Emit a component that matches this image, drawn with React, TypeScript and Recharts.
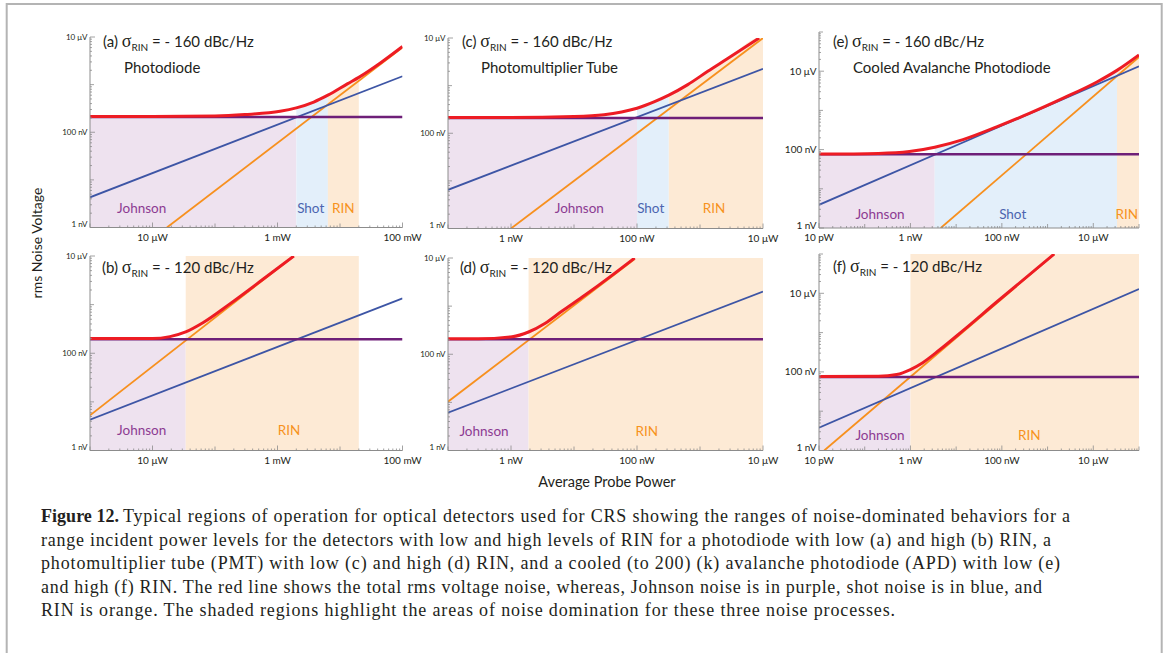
import React from "react";
import { ComposedChart, Line, Area, XAxis, YAxis } from "recharts";

type Pt = { x: number; y: number };

// x: average probe power (W), y: rms noise voltage (V)

// (a) photodiode, -160 dBc/Hz
const johnsonA: Pt[] = [{ x: 1e-6, y: 2.1e-7 }, { x: 1e-1, y: 2.1e-7 }];
const shotA: Pt[] = [{ x: 1e-6, y: 4.3e-9 }, { x: 1e-1, y: 1.5e-6 }];
const rinA: Pt[] = [{ x: 1.7e-5, y: 1e-9 }, { x: 1e-1, y: 6e-6 }];
const totalA: Pt[] = [
  { x: 1e-6, y: 2.15e-7 }, { x: 1e-5, y: 2.15e-7 }, { x: 1e-4, y: 2.2e-7 },
  { x: 3e-4, y: 2.35e-7 }, { x: 1.1e-3, y: 2.75e-7 }, { x: 2e-3, y: 3.25e-7 },
  { x: 3.8e-3, y: 4.3e-7 }, { x: 6.4e-3, y: 6e-7 }, { x: 1.33e-2, y: 1.05e-6 },
  { x: 2e-2, y: 1.42e-6 }, { x: 4.6e-2, y: 2.95e-6 }, { x: 1e-1, y: 6.3e-6 },
];
const edgesA = [2e-3, 6.4e-3, 2e-2];

// (b) photodiode, -120 dBc/Hz
const johnsonB: Pt[] = [{ x: 1e-6, y: 1.95e-7 }, { x: 1e-1, y: 1.95e-7 }];
const shotB: Pt[] = [{ x: 1e-6, y: 4.3e-9 }, { x: 1e-1, y: 1.35e-6 }];
const rinB: Pt[] = [{ x: 1e-6, y: 5.3e-9 }, { x: 1.8e-3, y: 9.8e-6 }];
const totalB: Pt[] = [
  { x: 1e-6, y: 2e-7 }, { x: 1e-5, y: 2e-7 }, { x: 1.9e-5, y: 2.2e-7 },
  { x: 3.4e-5, y: 2.75e-7 }, { x: 6.5e-5, y: 4.3e-7 }, { x: 1.75e-4, y: 1.05e-6 },
  { x: 6e-4, y: 3.4e-6 }, { x: 1.83e-3, y: 1e-5 },
];
const edgesB = [3.4e-5, 2e-2];

// (c) photomultiplier tube, -160 dBc/Hz
const johnsonC: Pt[] = [{ x: 1e-10, y: 2.1e-7 }, { x: 1e-5, y: 2.1e-7 }];
const shotC: Pt[] = [{ x: 1e-10, y: 6.5e-9 }, { x: 1e-5, y: 2.25e-6 }];
const rinC: Pt[] = [{ x: 1e-9, y: 1e-9 }, { x: 1e-5, y: 1e-5 }];
const totalC: Pt[] = [
  { x: 1e-10, y: 2.15e-7 }, { x: 1e-9, y: 2.15e-7 }, { x: 1e-8, y: 2.25e-7 },
  { x: 3e-8, y: 2.45e-7 }, { x: 5.7e-8, y: 2.8e-7 }, { x: 1e-7, y: 3.35e-7 },
  { x: 1.9e-7, y: 4.6e-7 }, { x: 3.2e-7, y: 6.3e-7 }, { x: 6.4e-7, y: 1.05e-6 },
  { x: 1.33e-6, y: 2.0e-6 }, { x: 2.75e-6, y: 3.7e-6 }, { x: 8.7e-6, y: 1e-5 },
];
const edgesC = [1e-7, 3.2e-7, 1e-5];

// (d) photomultiplier tube, -120 dBc/Hz
const johnsonD: Pt[] = [{ x: 1e-10, y: 2.05e-7 }, { x: 1e-5, y: 2.05e-7 }];
const shotD: Pt[] = [{ x: 1e-10, y: 6.1e-9 }, { x: 1e-5, y: 2.0e-6 }];
const rinD: Pt[] = [{ x: 1e-10, y: 1.03e-8 }, { x: 9e-8, y: 9.3e-6 }];
const totalD: Pt[] = [
  { x: 1e-10, y: 2.1e-7 }, { x: 3e-10, y: 2.1e-7 }, { x: 1.04e-9, y: 2.32e-7 },
  { x: 1.9e-9, y: 2.9e-7 }, { x: 3.5e-9, y: 4.4e-7 }, { x: 6.4e-9, y: 7.8e-7 },
  { x: 1.5e-8, y: 1.7e-6 }, { x: 3.95e-8, y: 4.3e-6 }, { x: 9.2e-8, y: 1e-5 },
];
const edgesD = [1.9e-9, 1e-5];

// (e) cooled APD, -160 dBc/Hz
const johnsonE: Pt[] = [{ x: 1e-11, y: 7.6e-8 }, { x: 1e-4, y: 7.6e-8 }];
const shotE: Pt[] = [{ x: 1e-11, y: 3.9e-9 }, { x: 1e-4, y: 1.34e-5 }];
const rinE: Pt[] = [{ x: 4.6e-9, y: 1e-9 }, { x: 1e-4, y: 2.3e-5 }];
const totalE: Pt[] = [
  { x: 1e-11, y: 7.7e-8 }, { x: 2e-10, y: 8e-8 }, { x: 9.5e-10, y: 8.9e-8 },
  { x: 3.4e-9, y: 1.15e-7 }, { x: 1.41e-8, y: 1.8e-7 }, { x: 7.7e-8, y: 3.8e-7 },
  { x: 4.1e-7, y: 8.5e-7 }, { x: 2.2e-6, y: 2.05e-6 }, { x: 1.2e-5, y: 5.3e-6 },
  { x: 3.3e-5, y: 1.05e-5 }, { x: 1e-4, y: 2.6e-5 },
];
const edgesE = [3.4e-9, 3.3e-5, 1e-4];

// (f) cooled APD, -120 dBc/Hz
const johnsonF: Pt[] = [{ x: 1e-11, y: 7.4e-8 }, { x: 1e-4, y: 7.4e-8 }];
const shotF: Pt[] = [{ x: 1e-11, y: 3.8e-9 }, { x: 1e-4, y: 1.29e-5 }];
const rinF: Pt[] = [{ x: 1.3e-11, y: 1e-9 }, { x: 1.4e-6, y: 1e-4 }];
const totalF: Pt[] = [
  { x: 1e-11, y: 7.6e-8 }, { x: 2e-10, y: 7.8e-8 }, { x: 5e-10, y: 8.6e-8 },
  { x: 1e-9, y: 1.15e-7 }, { x: 1.86e-9, y: 1.72e-7 }, { x: 4.3e-9, y: 3.6e-7 },
  { x: 1.41e-8, y: 1.12e-6 }, { x: 7.7e-8, y: 6e-6 }, { x: 1.4e-6, y: 1e-4 },
];
const edgesF = [1e-9, 1e-4];

// tick labels
const xTicksAB = [1e-5, 1e-3, 1e-1];
const xLabelsAB = ["10 \u03bcW", "1 mW", "100 mW"];
const xTicksCD = [1e-9, 1e-7, 1e-5];
const xLabelsCD = ["1 nW", "100 nW", "10 \u03bcW"];
const xTicksEF = [1e-11, 1e-9, 1e-7, 1e-5];
const xLabelsEF = ["10 pW", "1 nW", "100 nW", "10 \u03bcW"];
const yTicksV = [1e-9, 1e-7, 1e-5];
const yLabelsV = ["1 nV", "100 nV", "10 \u03bcV"];

const captionLines = [
  "Typical regions of operation for optical detectors used for CRS showing the ranges of noise-dominated behaviors for a",
  "range incident power levels for the detectors with low and high levels of RIN for a photodiode with low (a) and high (b) RIN, a",
  "photomultiplier tube (PMT) with low (c) and high (d) RIN, and a cooled (to 200) (k) avalanche photodiode (APD) with low (e)",
  "and high (f) RIN. The red line shows the total rms voltage noise, whereas, Johnson noise is in purple, shot noise is in blue, and",
  "RIN is orange. The shaded regions highlight the areas of noise domination for these three noise processes.",
];

const INK = "#231f20";
const SANS = "Lato, 'Noto Sans', sans-serif";
const SERIF = "'Liberation Serif', 'DejaVu Serif', serif";
const AXIS = "#8c8c8c";
const RED = "#ed1c24";
const PURPLE = "#6e1f78";
const BLUE = "#3d55a5";
const ORANGE = "#f7901e";
const FILL: Record<string, string> = { J: "#eee2ef", S: "#e3effa", R: "#fdead5" };
const TXT: Record<string, string> = { J: "#8c3b92", S: "#4b65b0", R: "#f7931d" };

function logTicks([lo, hi]: number[]) {
  const e0 = Math.round(Math.log10(lo));
  const e1 = Math.round(Math.log10(hi));
  const out: number[] = [];
  for (let e = e0; e < e1; e++) for (let m = 1; m < 10; m++) out.push(m * 10 ** e);
  out.push(10 ** e1);
  return out;
}

const same = (a: number, b: number) => Math.abs(Math.log10(a) - Math.log10(b)) < 1e-6;
const isDecade = (v: number) => Math.abs(Math.log10(v) - Math.round(Math.log10(v))) < 1e-6;
function labelFor(v: number, ticks: number[], labels: string[]) {
  const i = ticks.findIndex((t) => same(t, v));
  return i >= 0 ? labels[i] : null;
}

function XTick(props: any) {
  const { x, y, payload, major, labels } = props;
  const lbl = labelFor(payload.value, major, labels);
  const len = lbl ? 5 : isDecade(payload.value) ? 4 : 2;
  return (
    <g>
      <line x1={x} x2={x} y1={y} y2={y - len} stroke={AXIS} strokeWidth={0.8} />
      {lbl && (
        <text x={x} y={y + 13} textAnchor="middle" fontSize={10} fontFamily={SANS} fill={INK}>
          {lbl}
        </text>
      )}
    </g>
  );
}

function YTick(props: any) {
  const { x, y, payload, major, labels, fs, bottom } = props;
  const lbl = labelFor(payload.value, major, labels);
  const len = lbl ? 5 : isDecade(payload.value) ? 4 : 2;
  const shift = same(payload.value, bottom) ? -3 : 0;
  return (
    <g>
      <line x1={x} x2={x + len} y1={y} y2={y} stroke={AXIS} strokeWidth={0.8} />
      {lbl && (
        <text x={x - 2.5} y={y + shift + fs * 0.35} textAnchor="end" fontSize={fs} fontFamily={SANS} fill={INK}>
          {lbl}
        </text>
      )}
    </g>
  );
}

// shading under the total curve between two band edges, capped at the plot top
function underCurve(curve: Pt[], x0: number, x1: number, top: number): Pt[] {
  const pts = curve.filter((p) => p.x >= x0 * 0.9999 && p.x <= x1 * 1.0001);
  const last = pts[pts.length - 1];
  if (!same(last.x, x1)) pts.push({ x: x1, y: Math.min(top, last.y) });
  return pts;
}

type PanelCfg = {
  box: { l: number; t: number; r: number; b: number };
  xDomain: number[];
  yDomain: number[];
  xTicks: number[];
  xLabels: string[];
  yFont: number;
  johnson: Pt[];
  shot: Pt[];
  rin: Pt[];
  total: Pt[];
  edges: number[];
  kinds: string[];
  full: boolean[]; // band shaded up to the plot top instead of under the total curve
};

const panels: PanelCfg[] = [
  { box: { l: 89.5, t: 37, r: 402, b: 227.5 }, xDomain: [1e-6, 1e-1], yDomain: [1e-9, 1e-5], xTicks: xTicksAB, xLabels: xLabelsAB, yFont: 8, johnson: johnsonA, shot: shotA, rin: rinA, total: totalA, edges: edgesA, kinds: ["J", "S", "R"], full: [false, false, false] },
  { box: { l: 89.5, t: 256, r: 402, b: 450.5 }, xDomain: [1e-6, 1e-1], yDomain: [1e-9, 1e-5], xTicks: xTicksAB, xLabels: xLabelsAB, yFont: 8, johnson: johnsonB, shot: shotB, rin: rinB, total: totalB, edges: edgesB, kinds: ["J", "R"], full: [false, true] },
  { box: { l: 448, t: 37.5, r: 763, b: 228 }, xDomain: [1e-10, 1e-5], yDomain: [1e-9, 1e-5], xTicks: xTicksCD, xLabels: xLabelsCD, yFont: 8, johnson: johnsonC, shot: shotC, rin: rinC, total: totalC, edges: edgesC, kinds: ["J", "S", "R"], full: [false, false, false] },
  { box: { l: 448, t: 258, r: 763, b: 450.5 }, xDomain: [1e-10, 1e-5], yDomain: [1e-9, 1e-5], xTicks: xTicksCD, xLabels: xLabelsCD, yFont: 8, johnson: johnsonD, shot: shotD, rin: rinD, total: totalD, edges: edgesD, kinds: ["J", "R"], full: [false, true] },
  { box: { l: 819, t: 32, r: 1139, b: 228 }, xDomain: [1e-11, 1e-4], yDomain: [1e-9, 1e-4], xTicks: xTicksEF, xLabels: xLabelsEF, yFont: 10, johnson: johnsonE, shot: shotE, rin: rinE, total: totalE, edges: edgesE, kinds: ["J", "S", "R"], full: [false, false, false] },
  { box: { l: 819, t: 254, r: 1139, b: 450.5 }, xDomain: [1e-11, 1e-4], yDomain: [1e-9, 1e-4], xTicks: xTicksEF, xLabels: xLabelsEF, yFont: 10, johnson: johnsonF, shot: shotF, rin: rinF, total: totalF, edges: edgesF, kinds: ["J", "R"], full: [false, true] },
];

const ML = 50;
const MR = 22;
const MT = 10;

function Panel({ p }: { p: PanelCfg }) {
  const w = p.box.r - p.box.l + ML + MR;
  const h = p.box.b - p.box.t + MT + 30;
  const top = p.yDomain[1];
  const jLevel = p.johnson[0].y;
  const fills = p.kinds.map((k, i) => {
    if (i === 0) return { k, data: [{ x: p.xDomain[0], y: jLevel }, { x: p.edges[0], y: jLevel }] };
    if (p.full[i]) return { k, data: [{ x: p.edges[i - 1], y: top }, { x: p.edges[i], y: top }] };
    return { k, data: underCurve(p.total, p.edges[i - 1], p.edges[i], top) };
  });
  return (
    <div style={{ position: "absolute", left: p.box.l - ML, top: p.box.t - MT }}>
      <ComposedChart width={w} height={h} margin={{ top: MT, right: MR, bottom: 0, left: 0 }}>
        {fills.map((f, i) => (
          <Area
            key={i}
            data={f.data}
            dataKey="y"
            type={i === 0 || p.full[i] ? "linear" : "monotone"}
            stroke="none"
            fill={FILL[f.k]}
            fillOpacity={1}
            baseValue="dataMin"
            isAnimationActive={false}
          />
        ))}
        <XAxis
          dataKey="x"
          type="number"
          scale="log"
          domain={p.xDomain}
          allowDataOverflow
          ticks={logTicks(p.xDomain)}
          interval={0}
          height={30}
          tickSize={0}
          tickMargin={0}
          tickLine={false}
          axisLine={{ stroke: AXIS, strokeWidth: 1 }}
          tick={(t: any) => <XTick {...t} major={p.xTicks} labels={p.xLabels} />}
        />
        <YAxis
          type="number"
          scale="log"
          domain={p.yDomain}
          allowDataOverflow
          ticks={logTicks(p.yDomain)}
          interval={0}
          width={ML}
          tickSize={0}
          tickMargin={0}
          tickLine={false}
          axisLine={{ stroke: AXIS, strokeWidth: 1 }}
          tick={(t: any) => <YTick {...t} major={yTicksV} labels={yLabelsV} fs={p.yFont} bottom={p.yDomain[0]} />}
        />
        <Line data={p.rin} dataKey="y" type="linear" stroke={ORANGE} strokeWidth={1.8} dot={false} isAnimationActive={false} />
        <Line data={p.shot} dataKey="y" type="linear" stroke={BLUE} strokeWidth={1.8} dot={false} isAnimationActive={false} />
        <Line data={p.johnson} dataKey="y" type="linear" stroke={PURPLE} strokeWidth={2.5} dot={false} isAnimationActive={false} />
        <Line data={p.total} dataKey="y" type="monotone" stroke={RED} strokeWidth={3} dot={false} isAnimationActive={false} />
      </ComposedChart>
    </div>
  );
}

const headers = [
  { tag: "a", rin: "160", x: 103, y: 47, sub: "Photodiode", sx: 124 },
  { tag: "c", rin: "160", x: 462, y: 47, sub: "Photomultiplier Tube", sx: 481 },
  { tag: "e", rin: "160", x: 833, y: 47, sub: "Cooled Avalanche Photodiode", sx: 853 },
  { tag: "b", rin: "120", x: 102, y: 272.5, sub: "", sx: 0 },
  { tag: "d", rin: "120", x: 460, y: 273, sub: "", sx: 0 },
  { tag: "f", rin: "120", x: 833, y: 272, sub: "", sx: 0 },
];

const regionLabels = [
  { t: "Johnson", k: "J", x: 141.7, y: 212.5 },
  { t: "Shot", k: "S", x: 310.7, y: 213 },
  { t: "RIN", k: "R", x: 343.3, y: 213 },
  { t: "Johnson", k: "J", x: 141.7, y: 435 },
  { t: "RIN", k: "R", x: 289, y: 435 },
  { t: "Johnson", k: "J", x: 579.3, y: 212.5 },
  { t: "Shot", k: "S", x: 650.7, y: 213 },
  { t: "RIN", k: "R", x: 714, y: 213 },
  { t: "Johnson", k: "J", x: 484, y: 435.5 },
  { t: "RIN", k: "R", x: 646.7, y: 435.5 },
  { t: "Johnson", k: "J", x: 880, y: 219 },
  { t: "Shot", k: "S", x: 1012.7, y: 219 },
  { t: "RIN", k: "R", x: 1126.7, y: 219 },
  { t: "Johnson", k: "J", x: 880, y: 440 },
  { t: "RIN", k: "R", x: 1029.3, y: 440 },
];

const captionX = [123, 41, 41, 41, 41];
const captionW = [947, 1010, 1019, 1001, 854];
const captionY = [522, 545.5, 569, 592.5, 616];

export default function App() {
  return (
    <div style={{ position: "absolute", left: 0, top: 0, width: 1167, height: 653, background: "#fff", overflow: "hidden" }}>
      {panels.map((p, i) => (
        <Panel key={i} p={p} />
      ))}
      <svg width={1167} height={653} style={{ position: "absolute", left: 0, top: 0, pointerEvents: "none" }}>
        <rect x={6.7} y={4} width={1155} height={680} fill="none" stroke="#b4b4b4" strokeWidth={2} />
        {headers.map((h, i) => (
          <g key={i}>
            <text x={h.x} y={h.y} fontSize={15} fontFamily={SANS} fill={INK}>
              {`(${h.tag}) `}
              <tspan fontFamily={SERIF} fontSize={18}>σ</tspan>
              <tspan fontSize={10} dy={4}>RIN</tspan>
              <tspan dy={-4}>{` = - ${h.rin} dBc/Hz`}</tspan>
            </text>
            {h.sub && (
              <text x={h.sx} y={h.y + 25.5} fontSize={15} fontFamily={SANS} fill={INK}>
                {h.sub}
              </text>
            )}
          </g>
        ))}
        {regionLabels.map((r, i) => (
          <text key={i} x={r.x} y={r.y} textAnchor="middle" fontSize={13.5} fontFamily={SANS} fill={TXT[r.k]}>
            {r.t}
          </text>
        ))}
        <text transform="translate(42,243) rotate(-90)" textAnchor="middle" fontSize={14} fontFamily={SANS} fill={INK}>
          rms Noise Voltage
        </text>
        <text x={607} y={487} textAnchor="middle" fontSize={14.5} fontFamily={SANS} fill={INK}>
          Average Probe Power
        </text>
        <text x={41} y={captionY[0]} fontSize={18} fontWeight="bold" fontFamily={SERIF} fill={INK} textLength={78}>
          Figure 12.
        </text>
        {captionLines.map((line, i) => (
          <text key={i} x={captionX[i]} y={captionY[i]} fontSize={18} fontFamily={SERIF} fill={INK} textLength={captionW[i]}>
            {line}
          </text>
        ))}
      </svg>
    </div>
  );
}
